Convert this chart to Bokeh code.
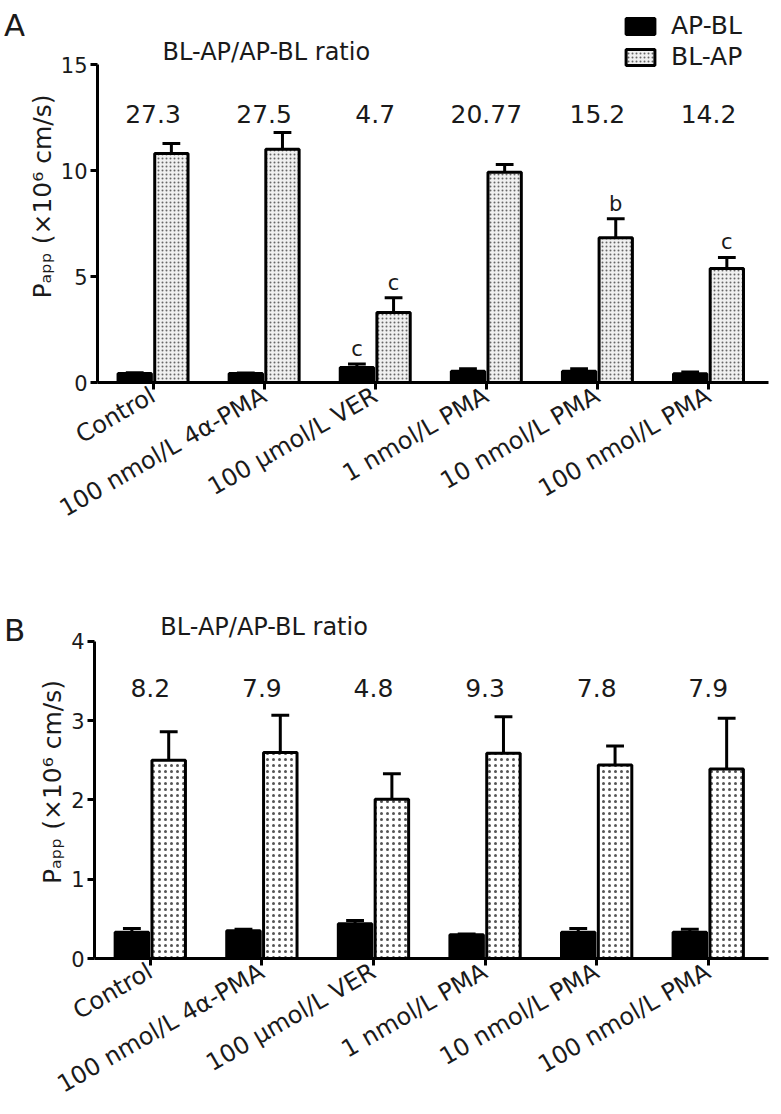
import math
from bokeh.plotting import figure
from bokeh.models import Range1d, FixedTicker, Legend, LegendItem, Div
from bokeh.layouts import column, row
from bokeh.core.properties import value
from bokeh.embed import file_html
from bokeh.resources import INLINE

categories = ["Control", "100 nmol/L 4α-PMA", "100 µmol/L VER",
              "1 nmol/L PMA", "10 nmol/L PMA", "100 nmol/L PMA"]
series_names = ["AP-BL", "BL-AP"]

# Panel A
a_apbl = [0.42, 0.42, 0.71, 0.53, 0.53, 0.41]
a_apbl_err = [0.04, 0.03, 0.16, 0.12, 0.12, 0.08]
a_blap = [10.8, 11.0, 3.3, 9.92, 6.83, 5.38]
a_blap_err = [0.47, 0.80, 0.70, 0.36, 0.90, 0.52]
a_ratio = ["27.3", "27.5", "4.7", "20.77", "15.2", "14.2"]
a_sig_apbl = ["", "", "c", "", "", ""]
a_sig_blap = ["", "", "c", "", "b", "c"]
a_yticks = [0, 5, 10, 15]

# Panel B
b_apbl = [0.33, 0.35, 0.44, 0.30, 0.33, 0.33]
b_apbl_err = [0.05, 0.02, 0.04, 0.01, 0.05, 0.04]
b_blap = [2.50, 2.60, 2.01, 2.59, 2.44, 2.39]
b_blap_err = [0.36, 0.47, 0.32, 0.46, 0.24, 0.64]
b_ratio = ["8.2", "7.9", "4.8", "9.3", "7.8", "7.9"]
b_sig_apbl = ["", "", "", "", "", ""]
b_sig_blap = ["", "", "", "", "", ""]
b_yticks = [0, 1, 2, 3, 4]

FONT = "DejaVu Sans"
TXT = "#1a1a1a"
DIV_W = 24
LEFT = 70
FIG_W = 773 - DIV_W


def make_panel(apbl, apbl_err, blap, blap_err, ratio, sig_apbl, sig_blap,
               yticks, ytop, height, btop, bbottom, fill, hscale, hcolor, ratio_y, title_y,
               legend):
    p = figure(width=FIG_W, height=height, x_range=Range1d(-0.5, 5.54),
               y_range=Range1d(0, ytop), output_backend="svg", toolbar_location=None,
               min_border_left=LEFT, min_border_right=5, min_border_top=btop,
               min_border_bottom=bbottom)
    p.outline_line_color = None
    p.grid.visible = False
    p.background_fill_color = "white"

    xs = list(range(len(categories)))
    xa = [i - 0.165 for i in xs]
    xb = [i + 0.165 for i in xs]

    for xx, v, e in ((xa, apbl, apbl_err), (xb, blap, blap_err)):
        tops = [vi + ei for vi, ei in zip(v, e)]
        p.segment(x0=xx, y0=v, x1=xx, y1=tops, line_color="black", line_width=3)
        p.segment(x0=[q - 0.08 for q in xx], y0=tops, x1=[q + 0.08 for q in xx], y1=tops,
                  line_color="black", line_width=3)

    ra = p.vbar(x=xa, top=apbl, bottom=0, width=0.30, fill_color="black",
                line_color="black", line_width=3)
    rb = p.vbar(x=xb, top=blap, bottom=0, width=0.30, fill_color=fill,
                line_color="black", line_width=3, hatch_pattern="dot",
                hatch_color=hcolor, hatch_scale=hscale, hatch_weight=1.2)

    ta = [vi + ei for vi, ei in zip(apbl, apbl_err)]
    tb = [vi + ei for vi, ei in zip(blap, blap_err)]
    p.text(x=xa, y=ta, text=sig_apbl, text_font=value(FONT), text_font_size="21px",
           text_align="center", text_baseline="bottom", y_offset=-3, text_color=TXT)
    p.text(x=xb, y=tb, text=sig_blap, text_font=value(FONT), text_font_size="21px",
           text_align="center", text_baseline="bottom", y_offset=-3, text_color=TXT)

    p.text(x=xs, y=[ratio_y] * len(xs), text=ratio, text_font=value(FONT),
           text_font_size="25px", text_align="center", text_baseline="middle",
           text_color=TXT)
    p.text(x=[1.02], y=[title_y], text=["BL-AP/AP-BL ratio"], text_font=value(FONT),
           text_font_size="24px", text_align="center", text_baseline="middle",
           text_color=TXT)

    ya = p.yaxis[0]
    ya.ticker = FixedTicker(ticks=yticks)
    ya.bounds = (yticks[0], yticks[-1])
    ya.axis_line_width = 3
    ya.major_tick_line_width = 3
    ya.major_tick_out = 7
    ya.major_tick_in = 0
    ya.minor_tick_line_color = None
    ya.major_label_text_font = FONT
    ya.major_label_text_font_size = "21px"
    ya.major_label_text_color = TXT
    ya.major_label_standoff = 3
    ya.axis_label = "Pₐₚₚ (×10⁶ cm/s)"
    ya.axis_label_text_font = FONT
    ya.axis_label_text_font_style = "normal"
    ya.axis_label_text_font_size = "25px"
    ya.axis_label_text_color = TXT
    ya.axis_label_standoff = 1

    xax = p.xaxis[0]
    xax.ticker = FixedTicker(ticks=xs)
    xax.major_label_overrides = {i: c for i, c in enumerate(categories)}
    xax.major_label_orientation = math.radians(30)
    xax.axis_line_width = 3
    xax.major_tick_line_width = 3
    xax.major_tick_out = 7
    xax.major_tick_in = 0
    xax.minor_tick_line_color = None
    xax.major_label_text_font = FONT
    xax.major_label_text_font_size = "24px"
    xax.major_label_text_color = TXT
    xax.major_label_standoff = 4

    if legend:
        lg = Legend(items=[LegendItem(label=series_names[0], renderers=[ra]),
                           LegendItem(label=series_names[1], renderers=[rb])],
                    location=(525, 311), padding=0, margin=0, border_line_color=None,
                    background_fill_alpha=0, glyph_width=36, glyph_height=20,
                    label_height=20, spacing=2, label_standoff=13,
                    label_text_font=FONT, label_text_font_size="25px",
                    label_text_color=TXT)
        p.add_layout(lg)
    return p


def letter_div(letter, pad_top):
    html = ('<div style="font-family:\'DejaVu Sans\';font-size:31px;line-height:1;'
            'color:%s;padding-left:4px;padding-top:%dpx;">%s</div>' % (TXT, pad_top, letter))
    return Div(text=html, width=DIV_W, height=60, margin=0)


pA = make_panel(a_apbl, a_apbl_err, a_blap, a_blap_err, a_ratio, a_sig_apbl, a_sig_blap,
                a_yticks, 17.55, 600, 10, 218, "#f0f0f0", 4, "#666666", 12.69, 15.57, True)
pB = make_panel(b_apbl, b_apbl_err, b_blap, b_blap_err, b_ratio, b_sig_apbl, b_sig_blap,
                b_yticks, 4.454, 514, 5, 156, "white", 6, "#555555", 3.41, 4.18, False)

layout = column(row(letter_div("A", 10), pA, spacing=0),
                row(letter_div("B", 15), pB, spacing=0), spacing=0)
open("out.html", "w").write(file_html(layout, INLINE))
